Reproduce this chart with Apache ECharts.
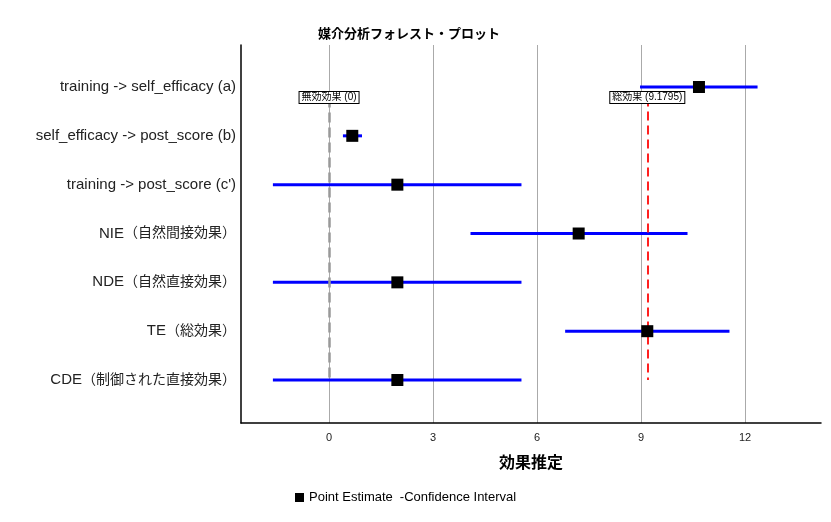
<!DOCTYPE html>
<html>
<head>
<meta charset="utf-8">
<script src="https://cdn.jsdelivr.net/npm/echarts@6/dist/echarts.min.js"></script>
<style>html,body{margin:0;padding:0;background:#fff;}#c{width:831px;height:522px;}</style>
</head>
<body>
<div id="c"></div>
<script>
const categories = [
  'training -> self_efficacy (a)',
  'self_efficacy -> post_score (b)',
  "training -> post_score (c')",
  'NIE（自然間接効果）',
  'NDE（自然直接効果）',
  'TE（総効果）',
  'CDE（制御された直接効果）'
];
const estimates = [10.67, 0.67, 1.97, 7.20, 1.97, 9.1795, 1.97];
const lowerCI = [8.97, 0.40, -1.62, 4.08, -1.62, 6.81, -1.62];
const upperCI = [12.36, 0.95, 5.55, 10.34, 5.55, 11.55, 5.55];
const xTicks = [0, 3, 6, 9, 12];
const nullEffect = 0;
const totalEffect = 9.1795;
const nullLabel = '無効効果 (0)';
const totalLabel = '総効果 (9.1795)';

const FONT = '"Liberation Sans", Arial, "Noto Sans CJK JP", sans-serif';
const chart = echarts.init(document.getElementById('c'));
const catIdx = categories.map((_, i) => i);
const ciData = catIdx.map(i => [lowerCI[i], upperCI[i], i]);
const ptData = catIdx.map(i => [estimates[i], i]);
const refTop = 0.215, refBottom = categories.length - 1;

const CJK = /[\u3000-\u9fff\uff00-\uffef]+|[^\u3000-\u9fff\uff00-\uffef]+/g;
function richLabel(s) {
  return (s.match(CJK) || []).map(run =>
    /[\u3000-\u9fff\uff00-\uffef]/.test(run) ? '{c|' + run + '}' : '{l|' + run + '}'
  ).join('');
}

const boxLabel = {
  show: true, position: 'inside', fontSize: 10, color: '#000', fontFamily: FONT,
  backgroundColor: '#fff', borderColor: '#000', borderWidth: 1, padding: [1, 2, 0, 2],
  formatter: p => p.name
};

chart.setOption({
  animation: false,
  backgroundColor: '#fff',
  title: {
    text: '媒介分析フォレスト・プロット', left: 313, top: 23,
    textStyle: { fontSize: 13, fontWeight: 'bold', color: '#000', fontFamily: FONT }
  },
  legend: {
    left: 295, top: 491, padding: 0, itemWidth: 9, itemHeight: 9, itemGap: -7,
    textStyle: { fontSize: 13, color: '#000', fontFamily: FONT },
    data: [{ name: 'Point Estimate', icon: 'rect' }, { name: 'Confidence Interval', icon: 'none' }],
    formatter: n => n === 'Confidence Interval' ? '-Confidence Interval' : n
  },
  grid: { left: 241, right: 10, top: 45, bottom: 99 },
  xAxis: {
    type: 'value', min: -2.54, max: 14.19,
    name: '効果推定', nameLocation: 'middle', nameGap: 33,
    nameTextStyle: { fontSize: 16, fontWeight: 'bold', color: '#000', fontFamily: FONT },
    axisLine: { show: true, onZero: false, lineStyle: { color: '#000', width: 1.5 } },
    axisTick: { show: false, customValues: xTicks },
    axisLabel: { customValues: xTicks, fontSize: 11, color: '#222', margin: 9, fontFamily: FONT },
    splitLine: { show: true, lineStyle: { color: '#aaa', width: 1 } }
  },
  yAxis: {
    type: 'value', inverse: true, min: -0.86, max: 6.88,
    axisLine: { show: true, onZero: false, lineStyle: { color: '#000', width: 1.5 } },
    axisTick: { show: false, customValues: catIdx },
    axisLabel: {
      customValues: catIdx, color: '#222', margin: 5, fontFamily: FONT,
      formatter: v => richLabel(categories[Math.round(v)] || ''),
      rich: {
        l: { fontSize: 15, color: '#222', fontFamily: FONT },
        c: { fontSize: 14, color: '#222', fontFamily: FONT }
      }
    },
    splitLine: { show: false }
  },
  series: [
    {
      name: 'Confidence Interval', type: 'custom', z: 2,
      itemStyle: { color: '#0000ff' },
      encode: { x: [0, 1], y: 2 },
      data: ciData,
      renderItem: (params, api) => {
        const a = api.coord([api.value(0), api.value(2)]);
        const b = api.coord([api.value(1), api.value(2)]);
        return { type: 'line', shape: { x1: a[0], y1: a[1], x2: b[0], y2: b[1] },
                 style: { stroke: '#0000ff', lineWidth: 3 } };
      }
    },
    {
      name: 'refs', type: 'scatter', z: 3, data: [], symbolSize: 0,
      markLine: {
        silent: true, symbol: 'none', label: { show: false },
        data: [
          [{ coord: [nullEffect, refTop], lineStyle: { color: '#999', type: [10, 5], width: 2.5 } }, { coord: [nullEffect, refBottom] }],
          [{ coord: [totalEffect, refTop], lineStyle: { color: '#ff2020', type: [9, 5], width: 2 } }, { coord: [totalEffect, refBottom] }]
        ]
      },
      markPoint: {
        silent: true, symbol: 'rect', symbolSize: 1, itemStyle: { color: 'rgba(0,0,0,0)' },
        label: boxLabel,
        data: [
          { name: nullLabel, coord: [nullEffect, refTop] },
          { name: totalLabel, coord: [totalEffect, refTop] }
        ]
      }
    },
    {
      name: 'Point Estimate', type: 'scatter', z: 5,
      symbol: 'rect', symbolSize: 12,
      itemStyle: { color: '#000', opacity: 1 },
      data: ptData
    }
  ]
});
</script>
</body>
</html>
